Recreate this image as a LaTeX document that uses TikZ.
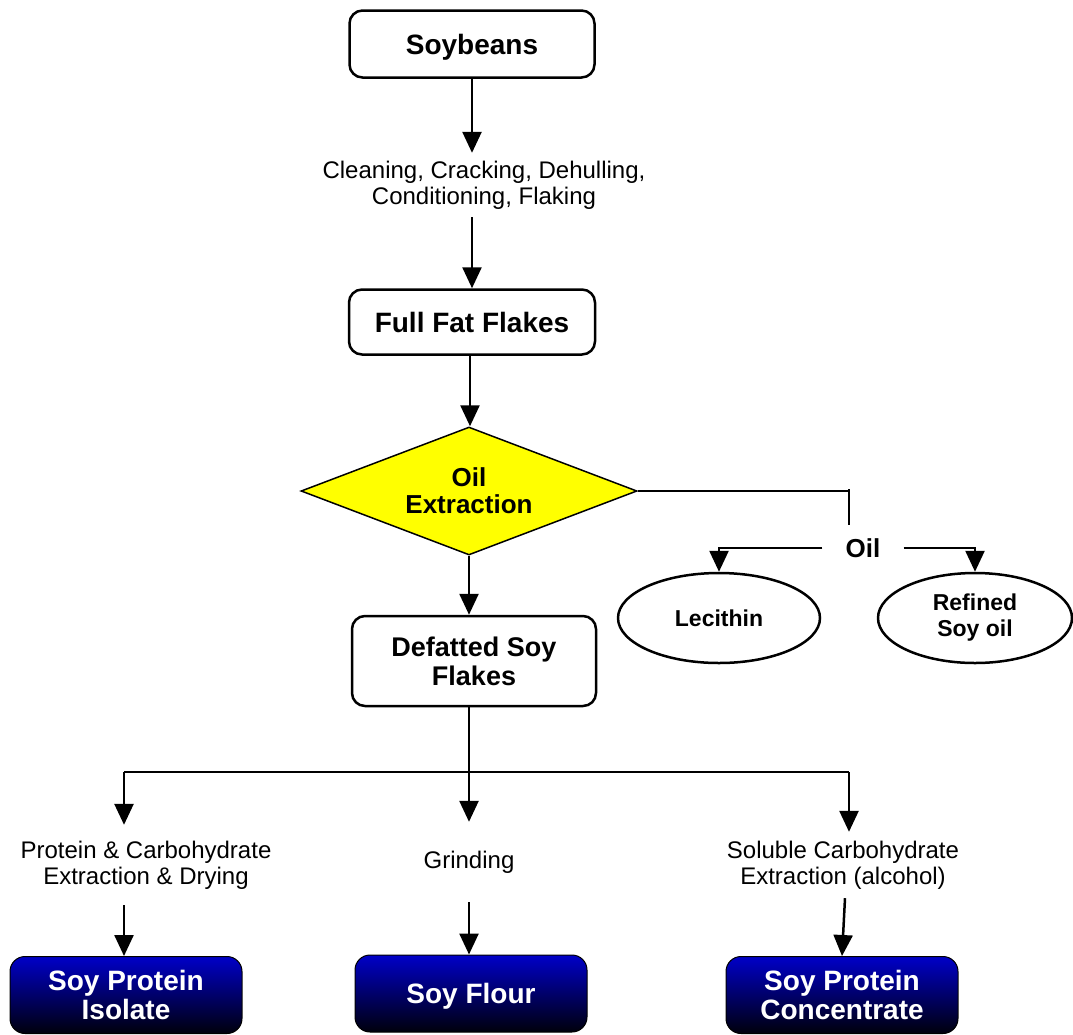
\documentclass[tikz,border=0pt]{standalone}
\usepackage{fontspec}
\setmainfont{Liberation Sans}
\usetikzlibrary{arrows.meta,shapes.geometric}
\definecolor{boxtop}{RGB}{0,0,200}
\definecolor{boxbot}{RGB}{0,0,12}
\definecolor{diayellow}{RGB}{255,255,0}
\tikzset{
  wbox/.style={draw=black, line width=2.5pt, rounded corners=13pt, fill=white, align=center, inner sep=0pt},
  bbox/.style={draw=black, line width=1pt, rounded corners=15pt, top color=boxtop, bottom color=boxbot, text=white, align=center, inner sep=0pt, minimum width=232pt, minimum height=77pt, text depth=0pt, font=\fontsize{28}{29}\selectfont\bfseries},
  lbl/.style={align=center, font=\fontsize{24}{26}\selectfont, inner sep=0pt},
  oval/.style={ellipse, draw=black, line width=2.5pt, align=center, inner sep=0pt, font=\fontsize{23}{26}\selectfont\bfseries},
  conn/.style={line width=2.5pt},
  arr/.style={line width=2.5pt, -{Triangle[width=19pt,length=21pt]}},
}
\begin{document}
\begin{tikzpicture}[x=1pt,y=-1pt]
\useasboundingbox (0,0) rectangle (1073,1034);
% nodes
\node[wbox, minimum width=245pt, minimum height=67pt, text depth=0pt, font=\fontsize{28}{29}\selectfont\bfseries] (soy) at (472,44) {Soybeans};
\node[lbl, minimum height=64pt] (clean) at (484,185) {Cleaning, Cracking, Dehulling,\\Conditioning, Flaking};
\node[wbox, minimum width=246pt, minimum height=65pt, font=\fontsize{28}{29}\selectfont\bfseries] (fff) at (472,322) {Full Fat Flakes};
\node[diamond, draw=black, line width=1.5pt, fill=diayellow, aspect=2.625, minimum width=336pt, minimum height=128pt, inner sep=0pt, align=center, font=\fontsize{26}{27}\selectfont\bfseries] (dia) at (469,491) {Oil\\Extraction};
\node[wbox, minimum width=244pt, minimum height=90pt, font=\fontsize{27}{29}\selectfont\bfseries] (def) at (474,661) {Defatted Soy\\Flakes};
\node[inner xsep=23pt, minimum height=46pt, inner ysep=0pt, font=\fontsize{26}{27}\selectfont\bfseries] (oil) at (863,548) {Oil};
\node[oval, minimum width=202pt, minimum height=90pt] (lec) at (719,618) {Lecithin};
\node[oval, minimum width=194pt, minimum height=90pt] (ref) at (975,618) {Refined\\Soy oil};
\node[lbl, minimum height=80pt] (pc) at (146,865) {Protein \& Carbohydrate\\Extraction \& Drying};
\node[lbl, minimum height=80pt] (gr) at (469,862) {Grinding};
\node[lbl, minimum height=66pt] (sc) at (843,865) {Soluble Carbohydrate\\Extraction (alcohol)};
\node[bbox] (iso) at (126,995) {Soy Protein\\Isolate};
\node[bbox] (flour) at (471,993.5) {Soy Flour};
\node[bbox] (conc) at (842,995) {Soy Protein\\Concentrate};
% coordinates
\coordinate (j1) at (849,493);
\coordinate (jb) at (469,772);
\coordinate (jl) at (124,772);
\coordinate (jr) at (849,772);
% connectors
\draw[arr] (soy.south) -- (soy.south |- clean.north);
\draw[arr] (clean.south -| fff.north) -- (fff.north);
\draw[arr] ([xshift=-2pt]fff.south) -- ([xshift=-2pt]fff.south |- dia.north);
\draw[conn] (dia.east) -- (dia.east -| j1);
\draw[conn] ([yshift=4pt]j1) -- (j1 |- oil.north);
\draw[arr] (oil.west) -| (lec.north);
\draw[arr] (oil.east) -| (ref.north);
\draw[arr] (dia.south -| def.north) ++(-5,0) -- ([xshift=-5pt]def.north);
\draw[conn] ([xshift=-5pt]def.south) -- (jb);
\draw[conn] (jl) -- (jr);
\draw[arr] (jl) -- (jl |- pc.north);
\draw[arr] (jb) -- (jb |- gr.north);
\draw[arr] (jr) -- (jr |- sc.north);
\draw[arr] (pc.south -| jl) -- (jl |- iso.north);
\draw[arr] (gr.south -| jb) -- (jb |- flour.north);
\draw[arr] ([xshift=2pt]sc.south) -- (conc.north);
\end{tikzpicture}
\end{document}
